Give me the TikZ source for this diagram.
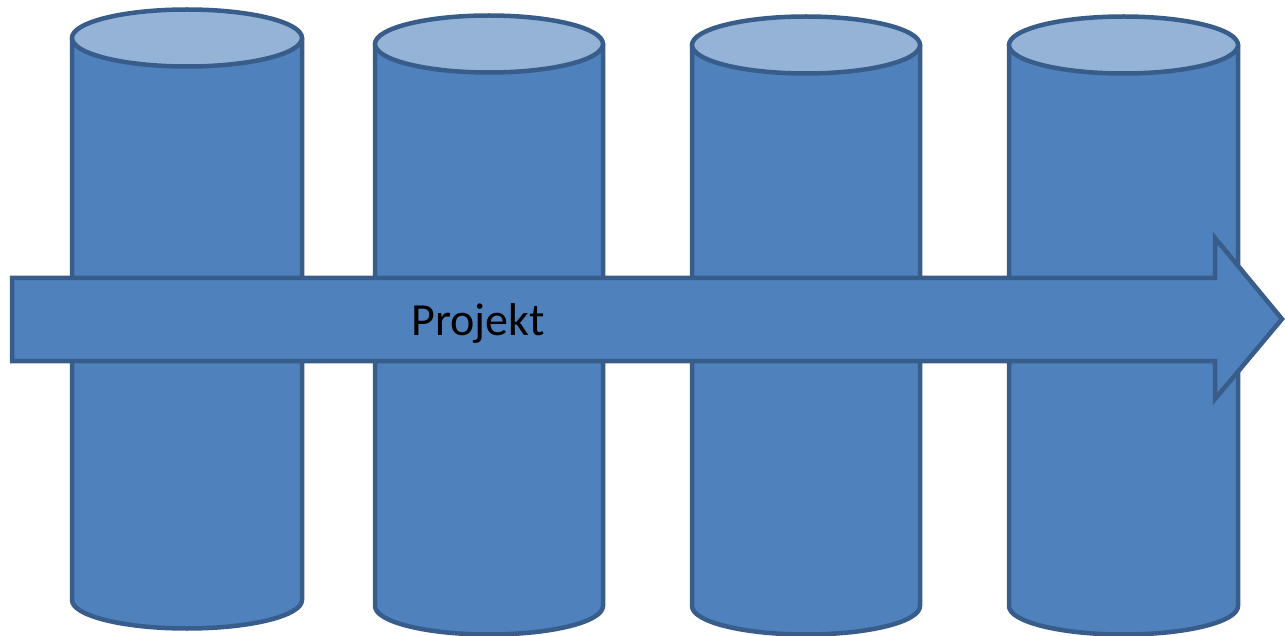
\documentclass[tikz,border=0pt]{standalone}
\usepackage{fontspec}
\setmainfont{Carlito}
\usepackage{tikz}
\usetikzlibrary{calc}
\usetikzlibrary{positioning}

\definecolor{cylbody}{HTML}{4F81BD}
\definecolor{cyltop}{HTML}{95B3D7}
\definecolor{cylline}{HTML}{385D8A}

\begin{document}
\begin{tikzpicture}[
  x=1pt, y=1pt,
  line width=4.5pt,
  cylbody/.style = {draw=cylline,fill=cylbody,line join=round},
  cyllid/.style = {draw=cylline,fill=cyltop},
  bigarrow/.style = {draw=cylline,fill=cylbody,line join=miter},
  label text/.style = {font=\fontsize{46}{54}\selectfont,text=black,inner sep=0pt}
  ]
	\useasboundingbox (0,0) rectangle (1285,-636);

	% cylinders: centre x / top y / bottom y / half width
	\foreach \cx/\ty/\by/\rx [count=\i] in {187/-38/-600/115, 489/-44/-606/114, 806/-45/-606/114, 1123.5/-45/-606/114.5}{
		\coordinate (top\i) at (\cx,\ty);
		\coordinate (bot\i) at (\cx,\by);
		\draw[cylbody] ($(top\i)+(-\rx,0)$) -- ($(bot\i)+(-\rx,0)$)
			arc[start angle=180, end angle=360, x radius=\rx, y radius=28.5]
			-- ($(top\i)+(\rx,0)$) -- cycle;
		\draw[cyllid] (top\i) ellipse[x radius=\rx, y radius=28.5];
	}

	% arrow across
	\coordinate (tail) at (12,-319.5);
	\coordinate (tip) at (1282,-319);
	\draw[bigarrow] (12,-278) -- (1215,-278) -- (1215,-238) -- (tip)
		-- (1215,-399) -- (1215,-361) -- (12,-361) -- cycle;

	\node[label text,anchor=base west] (projekt) at (409,-335) {Projekt};

\end{tikzpicture}
\end{document}
